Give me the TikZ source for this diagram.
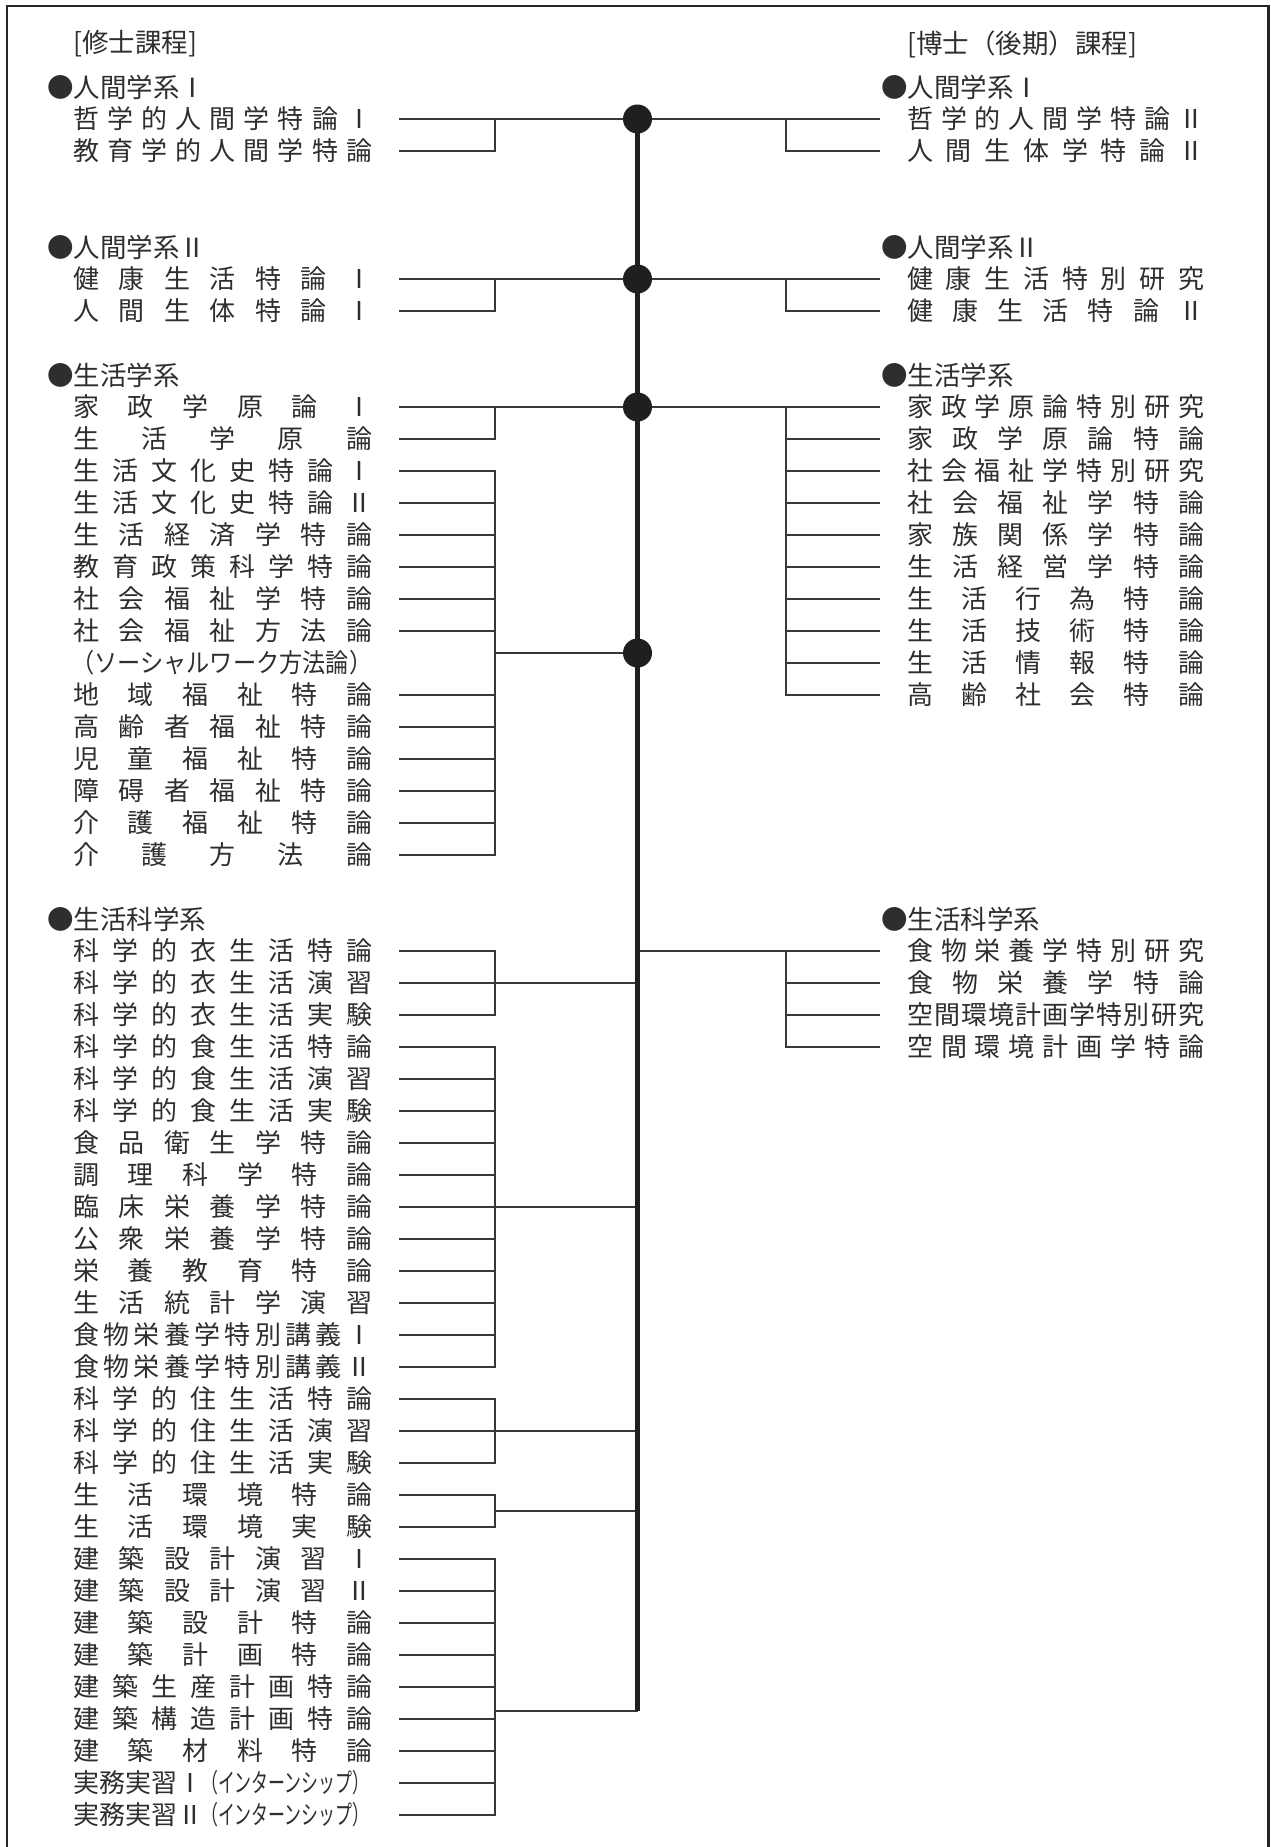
\documentclass[tikz,border=0pt]{standalone}
\usepackage{fontspec}
\usepackage{graphicx}
\setmainfont{Noto Sans CJK JP}
\def\sprA#1{\ifx\relax#1\else #1\expandafter\sprB\fi}
\def\sprB#1{\ifx\relax#1\else\hfill #1\expandafter\sprB\fi}
\newcommand\spr[2]{\makebox[#1][s]{\sprA#2\relax}}
\newcommand\LT[2]{\node[txt] (L#1) at (73,{119+32*#1}) {\spr{299pt}{#2}};}
\newcommand\RT[2]{\node[txt] (R#1) at (907,{119+32*#1}) {\spr{297pt}{#2}};}
\newcommand\intern{\resizebox{168pt}{\height}{（インターンシップ）}}
\tikzset{
  txt/.style={anchor=west, inner sep=0pt, text=black!82, font=\fontsize{26}{30}\selectfont},
  hd/.style={anchor=west, inner sep=0pt, text=black!82, font=\fontsize{26.5}{30}\selectfont},
  ln/.style={draw=black!78, line width=1.6pt},
  spine/.style={draw=black!88, line width=5.5pt},
  frame/.style={draw=black!85, line width=2.2pt},
  dotfill/.style={fill=black!88}
}
\begin{document}
\begin{tikzpicture}[x=1pt,y=-1pt]
\useasboundingbox (0,0) rectangle (1271,1847);
\draw[frame] (7,1850) -- (7,6) -- (1268.5,6) -- (1268.5,1850);

% titles and headers
\node[hd] (TL) at (73,44) {[修士課程]};
\node[hd] (TR) at (907,44) {[博士（後期）課程]};
\node[hd] (HL1) at (47,87) {●人間学系Ⅰ};
\node[hd] (HR1) at (881,87) {●人間学系Ⅰ};
\node[hd] (HL2) at (47,247) {●人間学系Ⅱ};
\node[hd] (HR2) at (881,247) {●人間学系Ⅱ};
\node[hd] (HL3) at (47,375) {●生活学系};
\node[hd] (HR3) at (881,375) {●生活学系};
\node[hd] (HL4) at (47,919) {●生活科学系};
\node[hd] (HR4) at (881,919) {●生活科学系};

% left column
\LT{0}{哲学的人間学特論Ⅰ}
\LT{1}{教育学的人間学特論}
\LT{5}{健康生活特論Ⅰ}
\LT{6}{人間生体特論Ⅰ}
\LT{9}{家政学原論Ⅰ}
\LT{10}{生活学原論}
\LT{11}{生活文化史特論Ⅰ}
\LT{12}{生活文化史特論Ⅱ}
\LT{13}{生活経済学特論}
\LT{14}{教育政策科学特論}
\LT{15}{社会福祉学特論}
\LT{16}{社会福祉方法論}
\node[txt] (L17) at (71,663) {\resizebox{301pt}{\height}{（ソーシャルワーク方法論）}};
\LT{18}{地域福祉特論}
\LT{19}{高齢者福祉特論}
\LT{20}{児童福祉特論}
\LT{21}{障碍者福祉特論}
\LT{22}{介護福祉特論}
\LT{23}{介護方法論}
\LT{26}{科学的衣生活特論}
\LT{27}{科学的衣生活演習}
\LT{28}{科学的衣生活実験}
\LT{29}{科学的食生活特論}
\LT{30}{科学的食生活演習}
\LT{31}{科学的食生活実験}
\LT{32}{食品衛生学特論}
\LT{33}{調理科学特論}
\LT{34}{臨床栄養学特論}
\LT{35}{公衆栄養学特論}
\LT{36}{栄養教育特論}
\LT{37}{生活統計学演習}
\LT{38}{食物栄養学特別講義Ⅰ}
\LT{39}{食物栄養学特別講義Ⅱ}
\LT{40}{科学的住生活特論}
\LT{41}{科学的住生活演習}
\LT{42}{科学的住生活実験}
\LT{43}{生活環境特論}
\LT{44}{生活環境実験}
\LT{45}{建築設計演習Ⅰ}
\LT{46}{建築設計演習Ⅱ}
\LT{47}{建築設計特論}
\LT{48}{建築計画特論}
\LT{49}{建築生産計画特論}
\LT{50}{建築構造計画特論}
\LT{51}{建築材料特論}
\node[txt] (L52) at (73,1783) {\makebox[299pt][l]{実務実習Ⅰ\kern-2pt\intern}};
\node[txt] (L53) at (73,1815) {\makebox[299pt][l]{実務実習Ⅱ\kern-2pt\intern}};

% right column
\RT{0}{哲学的人間学特論Ⅱ}
\RT{1}{人間生体学特論Ⅱ}
\RT{5}{健康生活特別研究}
\RT{6}{健康生活特論Ⅱ}
\RT{9}{家政学原論特別研究}
\RT{10}{家政学原論特論}
\RT{11}{社会福祉学特別研究}
\RT{12}{社会福祉学特論}
\RT{13}{家族関係学特論}
\RT{14}{生活経営学特論}
\RT{15}{生活行為特論}
\RT{16}{生活技術特論}
\RT{17}{生活情報特論}
\RT{18}{高齢社会特論}
\RT{26}{食物栄養学特別研究}
\RT{27}{食物栄養学特論}
\RT{28}{空間環境計画学特別研究}
\RT{29}{空間環境計画学特論}

% joints
\coordinate (D0) at (637.5,119);
\coordinate (D1) at (637.5,279);
\coordinate (D2) at (637.5,407);
\coordinate (D3) at (637.5,653);
\coordinate (S27) at (637.5,983);
\coordinate (S26) at (637.5,951);
\coordinate (S34) at (637.5,1207);
\coordinate (S41) at (637.5,1431);
\coordinate (S43) at (637.5,1511);
\coordinate (Send) at (637.5,1711);
\coordinate (b1) at (495,119);
\coordinate (b2) at (495,279);
\coordinate (b3) at (495,407);
\coordinate (b4) at (495,653);
\coordinate (b5) at (495,983);
\coordinate (b6) at (495,1207);
\coordinate (b7) at (495,1431);
\coordinate (b8) at (495,1511);
\coordinate (b9) at (495,1711);
\coordinate (c1) at (786,119);
\coordinate (c2) at (786,279);
\coordinate (c3) at (786,407);
\coordinate (c4) at (786,951);

% connectors
\draw[ln] ([xshift=27pt]L0.east) -- ([xshift=-27pt]R0.west);
\draw[ln] ([xshift=27pt]L1.east) -| (b1);
\draw[ln] ([xshift=-27pt]R1.west) -| (c1);
\draw[ln] ([xshift=27pt]L5.east) -- ([xshift=-27pt]R5.west);
\draw[ln] ([xshift=27pt]L6.east) -| (b2);
\draw[ln] ([xshift=-27pt]R6.west) -| (c2);
\draw[ln] ([xshift=27pt]L9.east) -- ([xshift=-27pt]R9.west);
\draw[ln] ([xshift=27pt]L10.east) -| (b3);
\foreach \k in {10,...,18} \draw[ln] ([xshift=-27pt]R\k.west) -| (c3);
\foreach \k in {11,12,13,14,15,16,18,19,20,21,22,23} \draw[ln] ([xshift=27pt]L\k.east) -| (b4);
\draw[ln] (b4) -- (D3);
\foreach \k in {26,28} \draw[ln] ([xshift=27pt]L\k.east) -| (b5);
\draw[ln] ([xshift=27pt]L27.east) -- (S27);
\foreach \k in {29,...,39} \draw[ln] ([xshift=27pt]L\k.east) -| (b6);
\draw[ln] (b6) -- (S34);
\foreach \k in {40,42} \draw[ln] ([xshift=27pt]L\k.east) -| (b7);
\draw[ln] ([xshift=27pt]L41.east) -- (S41);
\foreach \k in {43,44} \draw[ln] ([xshift=27pt]L\k.east) -| (b8);
\draw[ln] (b8) -- (S43);
\foreach \k in {45,...,53} \draw[ln] ([xshift=27pt]L\k.east) -| (b9);
\draw[ln] (b9) -- (Send);
\draw[ln] (S26) -- ([xshift=-27pt]R26.west);
\foreach \k in {27,28,29} \draw[ln] ([xshift=-27pt]R\k.west) -| (c4);

% spine and dots
\draw[spine] (D0) -- (Send);
\foreach \d in {D0,D1,D2,D3} \fill[dotfill] (\d) circle (14.5);
\end{tikzpicture}
\end{document}
